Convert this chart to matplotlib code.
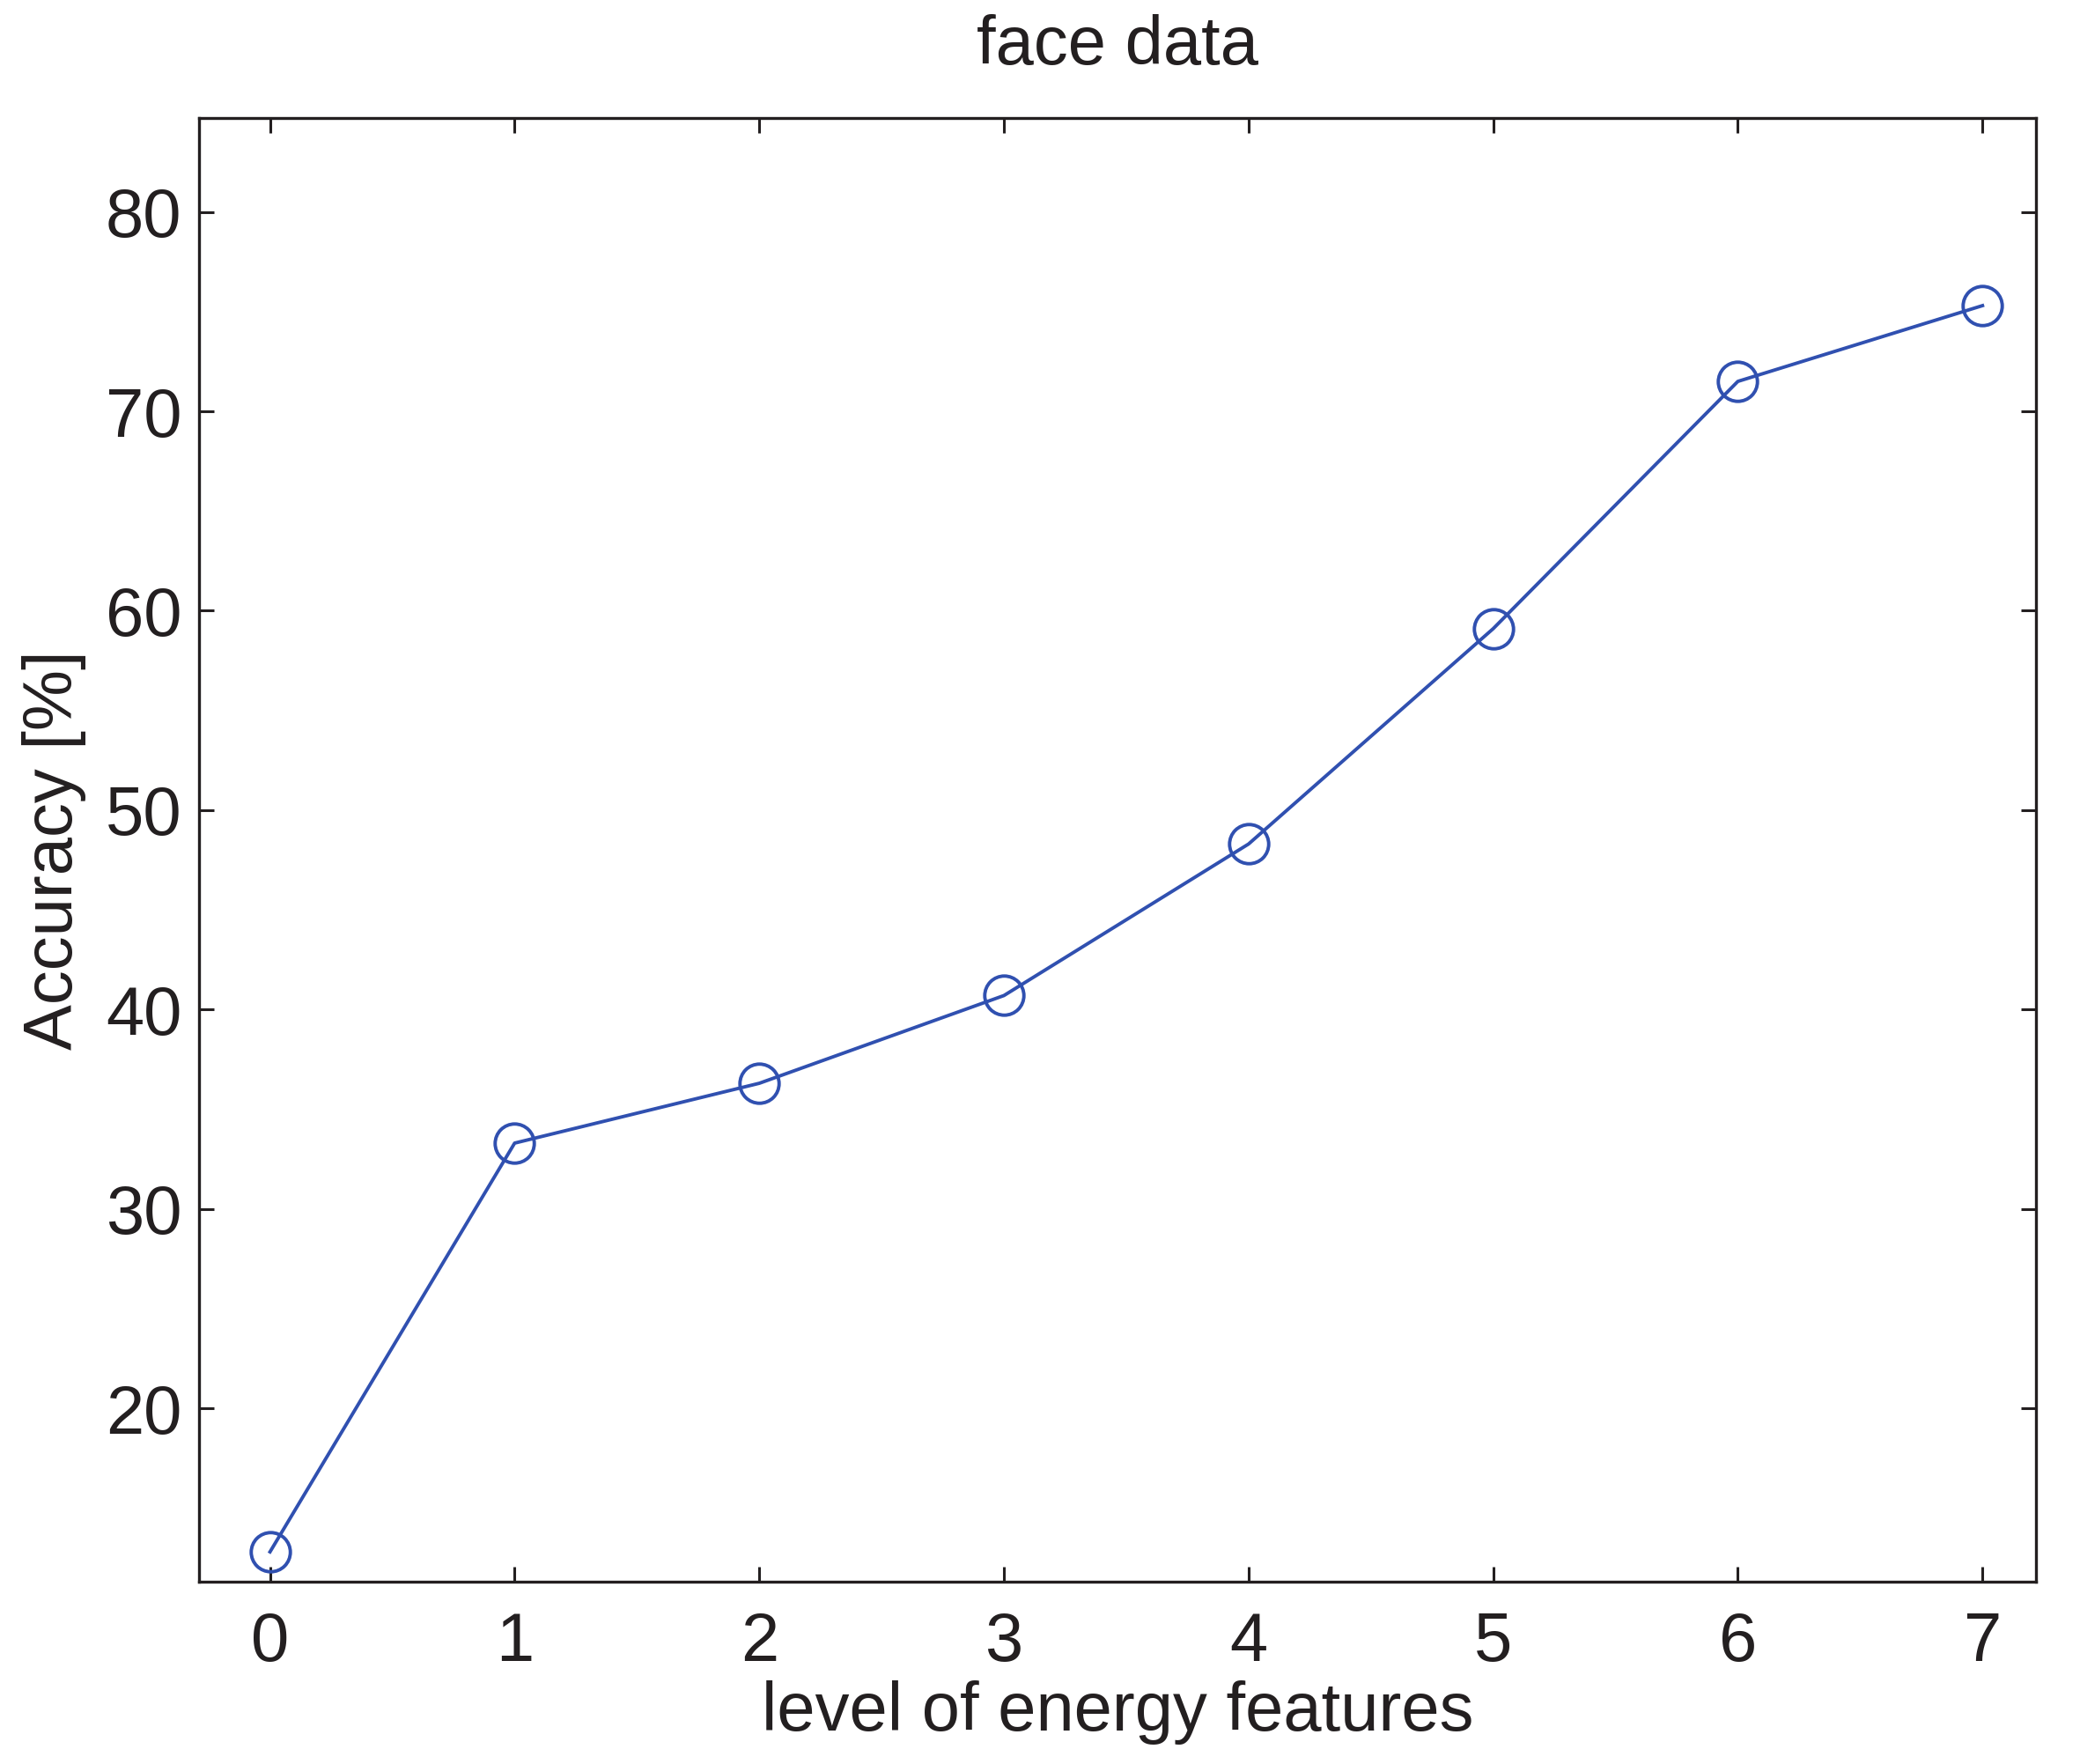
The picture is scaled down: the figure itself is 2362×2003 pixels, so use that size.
import numpy as np
import matplotlib
matplotlib.use("Agg")
import matplotlib.pyplot as plt

plt.rcParams['font.family'] = ['Liberation Sans', 'DejaVu Sans']

# Data
levels = [0, 1, 2, 3, 4, 5, 6, 7]
accuracy = [12.8, 33.3, 36.3, 40.7, 48.3, 59.1, 71.5, 75.3]
xticks = [0, 1, 2, 3, 4, 5, 6, 7]
yticks = [20, 30, 40, 50, 60, 70, 80]

fig = plt.figure(figsize=(11.81, 10.015), dpi=200)
ax = fig.add_axes([0.0957, 0.1033, 0.8833, 0.8297])

ax.plot(levels, accuracy, '-o', color='#3050b0', linewidth=1.4,
        markersize=16, markerfacecolor='none', markeredgewidth=1.4)

ax.set_xlim(-0.29, 7.22)
ax.set_ylim(11.3, 84.7)
ax.set_xticks(xticks)
ax.set_yticks(yticks)
ax.tick_params(direction='in', length=6, width=1.1, labelsize=28,
               top=True, right=True, colors='#231f20')
ax.tick_params(axis='x', pad=12)
ax.tick_params(axis='y', pad=7)
for s in ax.spines.values():
    s.set_linewidth(1.2)
    s.set_color('#231f20')

ax.set_xlabel('level of energy features', fontsize=28, color='#231f20', labelpad=2)
ax.set_ylabel('Accuracy [%]', fontsize=28, color='#231f20', labelpad=8)
ax.set_title('face data', fontsize=28, color='#231f20', pad=22)

fig.savefig('out.png', dpi=200)
